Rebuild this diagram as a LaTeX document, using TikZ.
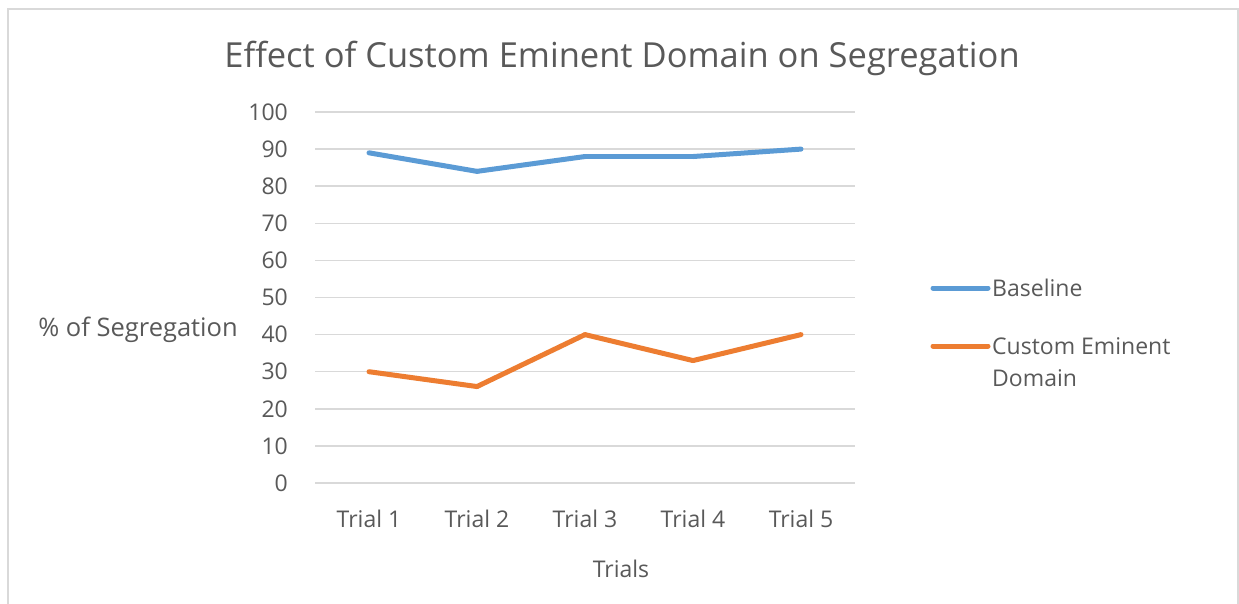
\documentclass[tikz,border=0pt]{standalone}
\usepackage{fontspec}
\setmainfont{Open Sans}
\usepackage{tikz}
\usetikzlibrary{calc}
\definecolor{txtgray}{RGB}{89,89,89}
\definecolor{gridgray}{RGB}{217,217,217}
\definecolor{baseblue}{RGB}{91,155,213}
\definecolor{cedorange}{RGB}{237,125,49}
\tikzstyle{lab} = [text=txtgray, inner sep=0pt, font=\fontsize{23}{32}\selectfont]
\tikzstyle{ytick} = [lab, anchor=east]
\tikzstyle{pt} = [inner sep=0pt, minimum size=0pt]
\tikzstyle{series} = [line width=5pt, line cap=round, line join=round]

\begin{document}
\begin{tikzpicture}[x=1pt,y=-1pt]
	%	frame and bounding box
		\useasboundingbox (0,0) rectangle (1239,603);
		\fill[white] (0,0) rectangle (1239,603);
		\draw[gridgray, line width=1.5pt] (8,640) -- (8,9) -- (1238,9) -- (1238,640);
		\node[lab, font=\fontsize{34.5}{40}\selectfont] (title) at (622,58) {Effect of Custom Eminent Domain on Segregation};
	%	grid and y labels
		\foreach \v in {0,10,...,100}
		{
		\coordinate (gl\v) at (315,{483-3.71*\v});
		\coordinate (gr\v) at (855,{483-3.71*\v});
		\draw[gridgray, line width=1.5pt] (gl\v) -- (gr\v);
		\node[ytick] (t\v) at (288,{483-3.71*\v}) {\v};
		}
	%	categories
		\foreach \i in {1,...,5}
		\node[lab] (x\i) at ({369+108*(\i-1)},519) {Trial \i};
		\node[lab] (xt) at (621,569) {Trials};
		\node[lab, font=\fontsize{25.5}{32}\selectfont] (yt) at (138,330) {\% of Segregation};
	%	data points
		\foreach \i/\b/\c in {1/89/30,2/84/26,3/88/40,4/88/33,5/90/40}
		{
		\node[pt] (b\i) at ({369+108*(\i-1)},{483-3.71*\b}) {};
		\node[pt] (c\i) at ({369+108*(\i-1)},{483-3.71*\c}) {};
		}
		\foreach \from/\to in {b1/b2,b2/b3,b3/b4,b4/b5}
		\draw[series, baseblue] (\from.center) -- (\to.center);
		\foreach \from/\to in {c1/c2,c2/c3,c3/c4,c4/c5}
		\draw[series, cedorange] (\from.center) -- (\to.center);
	%	legend
		\coordinate (lb1) at (933,288);
		\coordinate (lb2) at (988,288);
		\coordinate (lc1) at (933,346);
		\coordinate (lc2) at (988,346);
		\draw[series, baseblue] (lb1) -- (lb2);
		\draw[series, cedorange] (lc1) -- (lc2);
		\node[lab, anchor=west] (lbt) at (992,288) {Baseline};
		\node[lab, anchor=west] (lct) at (992,346) {Custom Eminent};
		\node[lab, anchor=west] (lct2) at (992,378) {Domain};
	\end{tikzpicture}
\end{document}
